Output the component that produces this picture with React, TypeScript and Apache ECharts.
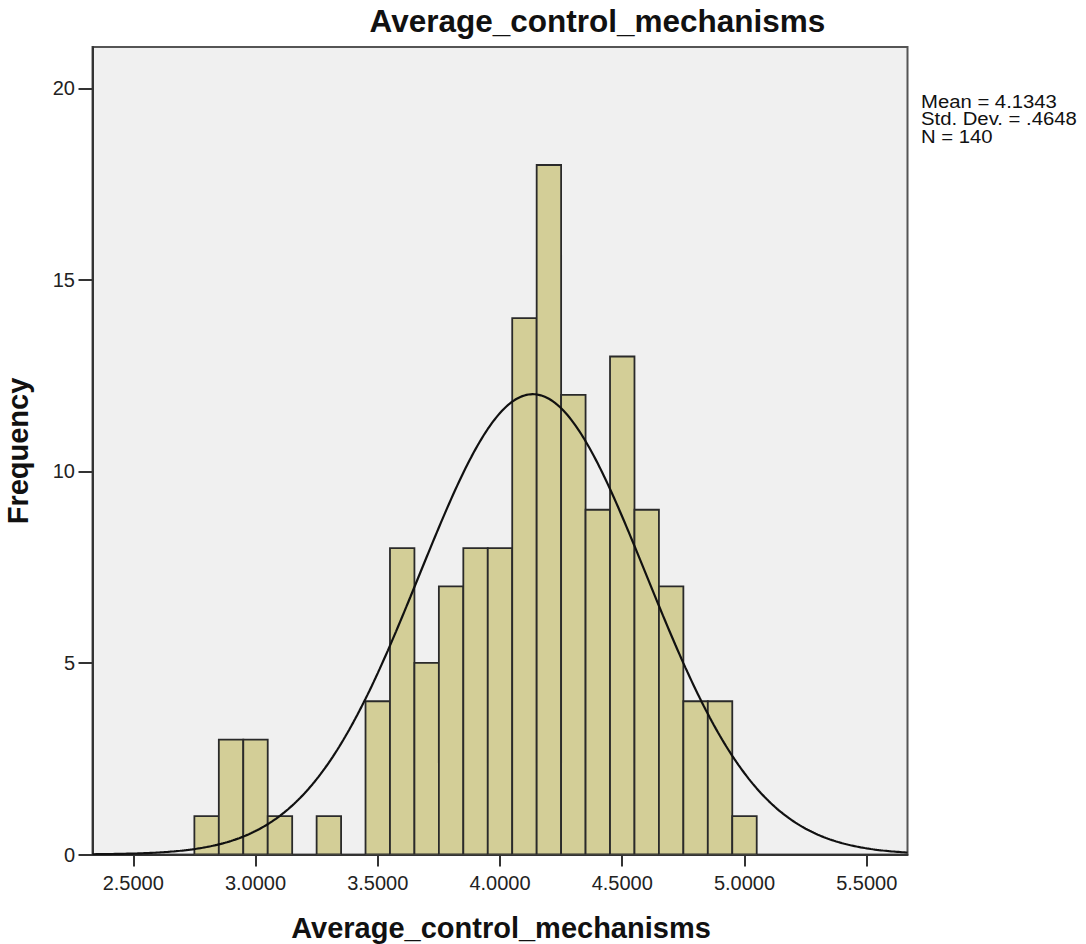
import React, { useEffect, useRef } from "react";
import * as echarts from "echarts";

// Histogram of Average_control_mechanisms, bins of width 0.1
const binCenters = [
  2.8, 2.9, 3.0, 3.1, 3.2, 3.3, 3.4, 3.5, 3.6, 3.7, 3.8, 3.9, 4.0,
  4.1, 4.2, 4.3, 4.4, 4.5, 4.6, 4.7, 4.8, 4.9, 5.0,
];
const frequencies = [
  1, 3, 3, 1, 0, 1, 0, 4, 8, 5, 7, 8, 8,
  14, 18, 12, 9, 13, 9, 7, 4, 4, 1,
];
const BIN_WIDTH = 0.1;

// Summary statistics
const MEAN = 4.1343;
const STD_DEV = 0.4648;
const N = 140;
const statLines = ["Mean = 4.1343", "Std. Dev. = .4648", "N = 140"];

const xTicks = [2.5, 3.0, 3.5, 4.0, 4.5, 5.0, 5.5];
const yTicks = [0, 5, 10, 15, 20];

const X_MIN = 2.3333;
const X_MAX = 5.6667;
const Y_MAX = 21.08;

const FONT = '"Liberation Sans", Arial, Helvetica, sans-serif';

// Normal curve scaled to the histogram counts
function normalCurve(): number[][] {
  const pts: number[][] = [];
  const k = (N * BIN_WIDTH) / (STD_DEV * Math.sqrt(2 * Math.PI));
  const steps = 400;
  for (let i = 0; i <= steps; i++) {
    const x = X_MIN + ((X_MAX - X_MIN) * i) / steps;
    const z = (x - MEAN) / STD_DEV;
    pts.push([x, k * Math.exp(-0.5 * z * z)]);
  }
  return pts;
}

export default function App() {
  const ref = useRef<HTMLDivElement>(null);

  useEffect(() => {
    if (!ref.current) return;
    const chart = echarts.init(ref.current, undefined, { renderer: "svg" });

    const bars = binCenters
      .map((c, i) => [c - BIN_WIDTH / 2, c + BIN_WIDTH / 2, frequencies[i]])
      .filter((d) => d[2] > 0);

    const labelStyle = {
      color: "#222",
      fontFamily: FONT,
      fontSize: 20,
    };

    chart.setOption({
      animation: false,
      backgroundColor: "#ffffff",
      grid: {
        left: 92.5,
        right: 178.5,
        top: 47,
        bottom: 89.5,
        show: true,
        backgroundColor: "#f0f0f0",
        borderColor: "#555",
        borderWidth: 2,
      },
      xAxis: {
        type: "value",
        min: X_MIN,
        max: X_MAX,
        splitLine: { show: false },
        axisLine: { show: true, lineStyle: { color: "#333", width: 2 } },
        axisTick: {
          show: true,
          customValues: xTicks,
          length: 12,
          lineStyle: { color: "#333", width: 2 },
        },
        axisLabel: {
          customValues: xTicks,
          margin: 18,
          formatter: (v: number) => v.toFixed(4),
          ...labelStyle,
        },
      },
      yAxis: {
        type: "value",
        min: 0,
        max: Y_MAX,
        splitLine: { show: false },
        axisLine: { show: true, lineStyle: { color: "#333", width: 2 } },
        axisTick: {
          show: true,
          customValues: yTicks,
          length: 14,
          lineStyle: { color: "#333", width: 2 },
        },
        axisLabel: {
          customValues: yTicks,
          margin: 17.5,
          formatter: (v: number) => String(v),
          ...labelStyle,
        },
      },
      graphic: [
        {
          type: "text",
          x: 597.5,
          y: 21.3,
          style: {
            text: "Average_control_mechanisms",
            fontFamily: FONT,
            fontWeight: "bold",
            fontSize: 31.5,
            fill: "#111",
            align: "center",
            verticalAlign: "middle",
          },
        },
        {
          type: "text",
          x: 501,
          y: 928,
          style: {
            text: "Average_control_mechanisms",
            fontFamily: FONT,
            fontWeight: "bold",
            fontSize: 29,
            fill: "#111",
            align: "center",
            verticalAlign: "middle",
          },
        },
        {
          type: "text",
          x: 18,
          y: 451,
          rotation: Math.PI / 2,
          style: {
            text: "Frequency",
            fontFamily: FONT,
            fontWeight: "bold",
            fontSize: 29,
            fill: "#111",
            align: "center",
            verticalAlign: "middle",
          },
        },
        // Statistics block beside the plot, slightly widened glyphs
        ...statLines.map((t, i) => ({
          type: "text",
          x: 921,
          y: 101.5 + i * 17.8,
          scaleX: 1.16,
          style: {
            text: t,
            fontFamily: FONT,
            fontSize: 17.5,
            fill: "#111",
            align: "left",
            verticalAlign: "middle",
          },
        })),
      ],
      series: [
        {
          type: "custom",
          data: bars,
          encode: { x: [0, 1], y: 2 },
          clip: true,
          renderItem: (params: any, api: any) => {
            const p0 = api.coord([api.value(0), 0]);
            const p1 = api.coord([api.value(1), api.value(2)]);
            return {
              type: "rect",
              shape: {
                x: p0[0],
                y: p1[1],
                width: p1[0] - p0[0],
                height: p0[1] - p1[1],
              },
              style: {
                fill: "#d3ce97",
                stroke: "#2a2a2a",
                lineWidth: 1.8,
              },
            };
          },
          z: 2,
        },
        {
          type: "line",
          data: normalCurve(),
          showSymbol: false,
          symbol: "none",
          clip: true,
          lineStyle: { color: "#111", width: 2.2 },
          z: 3,
        },
      ],
    });

    return () => chart.dispose();
  }, []);

  return (
    <div
      ref={ref}
      style={{ position: "fixed", left: 0, top: 0, width: 1086, height: 944 }}
    />
  );
}
